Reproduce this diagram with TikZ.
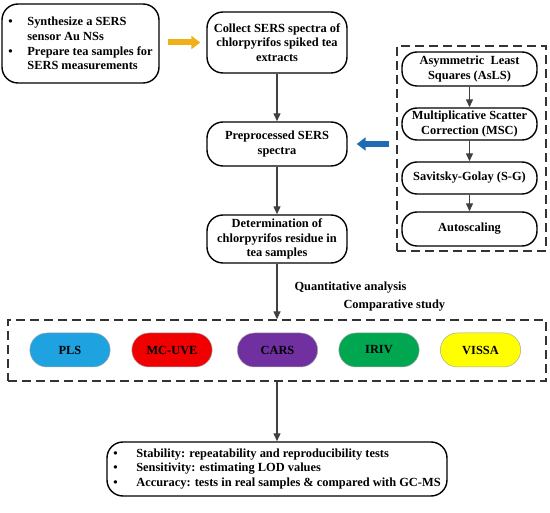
\documentclass[tikz,border=0pt]{standalone}
\usepackage{fontspec}
\setmainfont{Liberation Serif}
\usetikzlibrary{arrows.meta,fit,shapes.misc}
\definecolor{arrgray}{HTML}{404040}
\definecolor{dashgray}{HTML}{333333}
\definecolor{cPLS}{HTML}{1FA2E0}
\definecolor{cMC}{HTML}{F00000}
\definecolor{cCARS}{HTML}{7030A0}
\definecolor{cIRIV}{HTML}{00A650}
\definecolor{cVISSA}{HTML}{FFFF00}
\definecolor{cOrange}{HTML}{F0B01A}
\definecolor{cBlue}{HTML}{1F6BB5}
\tikzset{
  txt/.style={font=\fontsize{12.4}{14.6}\selectfont\bfseries},
  mainbox/.style={txt, draw=black, line width=1.4pt, rounded corners=16pt, align=center, inner sep=1pt},
  prebox/.style={txt, draw=black, line width=1.4pt, rounded corners=15pt, align=center, minimum width=135pt, inner sep=1pt},
  pill/.style={txt, rounded rectangle, draw=gray!70, line width=0.5pt, minimum width=87pt, minimum height=34pt},
  dbox/.style={draw=dashgray, line width=1.3pt, dash pattern=on 9pt off 5pt},
  flow/.style={draw=arrgray, line width=1.3pt, -{Triangle[width=7pt,length=8pt]}},
  fat/.style={line width=6pt, -{Triangle[width=13pt,length=9pt]}},
}
\begin{document}
\begin{tikzpicture}[x=1pt,y=-1pt]
\useasboundingbox (0,0) rectangle (550,513);
% top-left box
\node[mainbox, minimum width=157pt, minimum height=79pt, align=left] (prep0) at (80.5,43.5)
 {\makebox[19pt][l]{\textbullet}Synthesize a SERS\\
  \hspace*{19pt}sensor Au NSs\\
  \makebox[19pt][l]{\textbullet}Prepare tea samples for\\
  \hspace*{19pt}SERS measurements};
% main column
\node[mainbox, minimum width=140pt, minimum height=61pt] (collect) at (277,42.5)
 {Collect SERS spectra of\\chlorpyrifos spiked tea\\extracts};
\node[mainbox, minimum width=140pt, minimum height=44pt] (proc) at (277,144)
 {Preprocessed SERS\\spectra};
\node[mainbox, minimum width=140pt, minimum height=48pt] (det) at (277,239)
 {Determination of\\chlorpyrifos residue in\\tea samples};
% right preprocessing column
\node[prebox, minimum height=34pt] (asls) at (469.5,69) {Asymmetric\ \ Least\\Squares (AsLS)};
\node[prebox, minimum height=32pt] (msc) at (469.5,124) {Multiplicative Scatter\\Correction (MSC)};
\node[prebox, minimum height=32pt] (sg) at (469.5,178) {Savitsky-Golay (S-G)};
\node[prebox, minimum height=34pt] (auto) at (469.5,229) {Autoscaling};
\coordinate (preTL) at (397,46);
\coordinate (preBR) at (546,251);
\node[dbox, fit=(preTL)(preBR), inner sep=0pt] (pre) {};
% pills
\node[pill, fill=cPLS] (pls) at (70,350) {PLS};
\node[pill, fill=cMC] (mc) at (172,350) {MC-UVE};
\node[pill, fill=cCARS] (cars) at (277.5,350) {CARS};
\node[pill, fill=cIRIV] (iriv) at (379,350) {IRIV};
\node[pill, fill=cVISSA] (vissa) at (480.5,350) {VISSA};
\coordinate (cmpTL) at (8,320);
\coordinate (cmpBR) at (546,381);
\node[dbox, fit=(cmpTL)(cmpBR), inner sep=0pt] (cmp) {};
% bottom box
\node[mainbox, minimum width=340pt, minimum height=54pt, align=left] (eval) at (277,469)
 {\makebox[23pt][l]{\textbullet}Stability: repeatability and reproducibility tests\\
  \makebox[23pt][l]{\textbullet}Sensitivity: estimating LOD values\\
  \makebox[23pt][l]{\textbullet}Accuracy: tests in real samples \& compared with GC-MS};
% labels
\node[txt, anchor=west] (qa) at (291,288) {Quantitative analysis};
\node[txt, anchor=west] (cs) at (340,306) {Comparative study};
% connectors
\draw[flow] (collect) -- (proc);
\draw[flow] (proc) -- (det);
\draw[flow] (det) -- (det.south |- cmp.north);
\draw[flow] (cmp.south -| eval.north) -- (eval);
\draw[flow] (asls) -- (msc);
\draw[flow] (msc) -- (sg);
\draw[flow] (sg) -- (auto);
\draw[fat, draw=cOrange, fill=cOrange, shorten <=8pt, shorten >=6pt] (prep0.east |- collect) -- (collect.west);
\draw[fat, draw=cBlue, fill=cBlue, shorten <=7pt, shorten >=9pt] (pre.west |- proc) -- (proc.east);
\end{tikzpicture}
\end{document}
